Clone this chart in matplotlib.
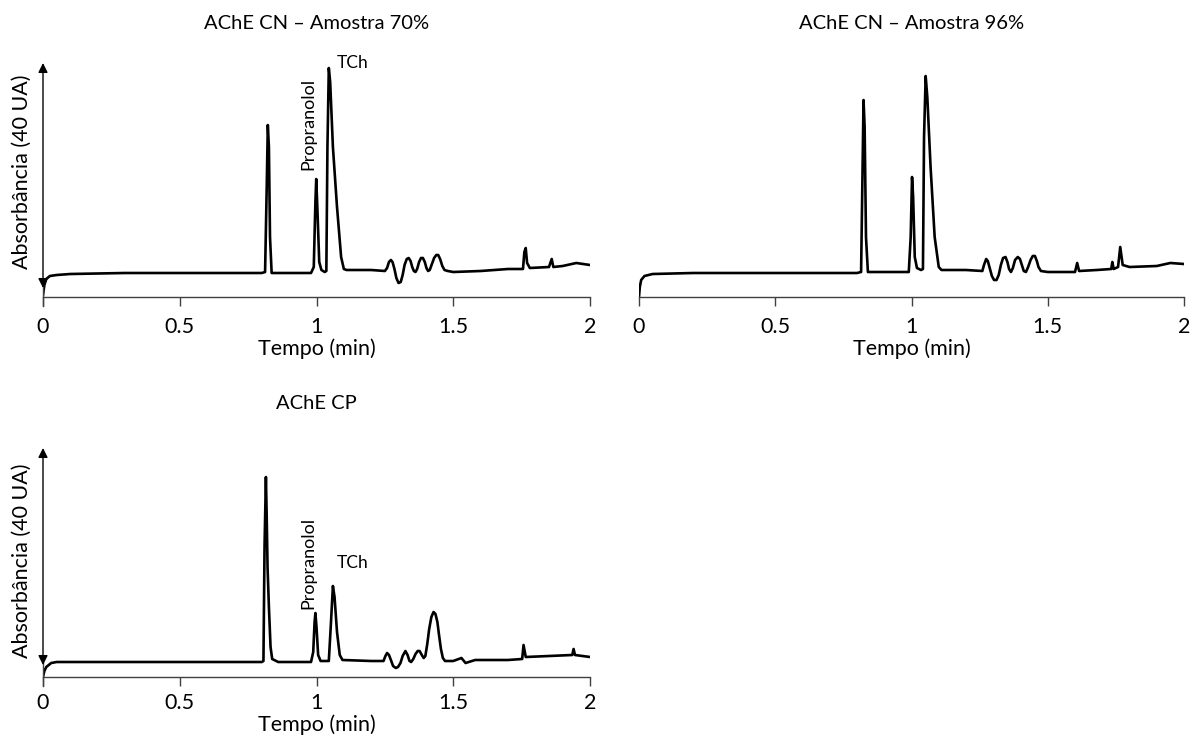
import matplotlib.pyplot as plt

plt.rcParams['font.family'] = ['Lato', 'DejaVu Sans']

# chromatogram traces (time in min, absorbance in arbitrary units)
t_70 = [0.000, 0.005, 0.012, 0.025, 0.05, 0.10, 0.30, 0.55, 0.80, 0.812, 0.818, 0.822, 0.826, 0.830,
        0.836, 0.98, 0.990, 0.996, 0.999, 1.003, 1.010, 1.018, 1.030, 1.036, 1.040, 1.045, 1.050, 1.060,
        1.075, 1.090, 1.100, 1.110, 1.20, 1.25, 1.258, 1.265, 1.272, 1.278, 1.285, 1.292, 1.300, 1.308,
        1.315, 1.322, 1.330, 1.337, 1.344, 1.350, 1.356, 1.362, 1.368, 1.375, 1.382, 1.389, 1.396, 1.402,
        1.408, 1.414, 1.422, 1.430, 1.438, 1.445, 1.452, 1.460, 1.468, 1.48, 1.50, 1.60, 1.70, 1.755,
        1.760, 1.765, 1.770, 1.78, 1.85, 1.860, 1.866, 1.90, 1.95, 2.00]
a_70 = [2, 12, 18, 21, 22, 23, 24, 24, 24, 25, 110, 172, 150, 60,
        24, 24, 30, 95, 118, 90, 35, 27, 25, 26, 150, 229, 215, 150,
        90, 40, 28, 27, 27, 26, 29, 35, 37, 35, 28, 19, 14, 15,
        22, 32, 38, 39, 36, 30, 26, 25, 28, 35, 39, 39, 35, 29,
        26, 27, 33, 39, 42, 42, 38, 31, 27, 26, 25, 26, 28, 28,
        45, 49, 34, 29, 30, 38, 30, 31, 34, 32]

t_96 = [0.000, 0.003, 0.008, 0.02, 0.05, 0.20, 0.50, 0.80, 0.815, 0.820, 0.824, 0.828, 0.833, 0.840,
        0.99, 0.997, 1.002, 1.006, 1.012, 1.020, 1.035, 1.042, 1.046, 1.052, 1.058, 1.070, 1.085, 1.100,
        1.110, 1.20, 1.26, 1.266, 1.274, 1.280, 1.287, 1.295, 1.303, 1.312, 1.320, 1.328, 1.336, 1.345,
        1.352, 1.358, 1.365, 1.372, 1.380, 1.390, 1.398, 1.405, 1.412, 1.420, 1.428, 1.437, 1.445, 1.453,
        1.460, 1.466, 1.475, 1.50, 1.60, 1.608, 1.615, 1.68, 1.733, 1.737, 1.742, 1.758, 1.766, 1.775,
        1.80, 1.90, 1.95, 2.00]
a_96 = [0, 10, 17, 21, 23, 24, 24, 24, 25, 120, 197, 170, 60, 25,
        25, 60, 120, 100, 40, 29, 27, 28, 160, 221, 200, 130, 60, 30,
        27, 27, 26, 32, 38, 36, 29, 21, 17, 17, 22, 32, 39, 40,
        35, 28, 25, 29, 37, 40, 38, 32, 26, 25, 30, 37, 41, 41,
        36, 30, 26, 25, 25, 34, 26, 27, 28, 35, 28, 30, 50, 32,
        30, 31, 34, 33]

t_cp = [0.000, 0.005, 0.012, 0.03, 0.05, 0.30, 0.80, 0.806, 0.810, 0.815, 0.818, 0.821, 0.826, 0.832,
        0.838, 0.86, 0.98, 0.988, 0.993, 0.996, 1.000, 1.006, 1.015, 1.045, 1.052, 1.060, 1.066, 1.075,
        1.085, 1.095, 1.20, 1.245, 1.252, 1.258, 1.265, 1.272, 1.280, 1.290, 1.298, 1.307, 1.315, 1.325,
        1.333, 1.340, 1.346, 1.354, 1.362, 1.370, 1.377, 1.385, 1.392, 1.398, 1.405, 1.412, 1.420, 1.428,
        1.435, 1.442, 1.448, 1.455, 1.462, 1.47, 1.50, 1.53, 1.545, 1.58, 1.70, 1.752, 1.757, 1.765,
        1.85, 1.935, 1.940, 1.945, 2.00]
a_cp = [0, 6, 10, 14, 15, 15, 15, 16, 130, 200, 160, 110, 70, 30,
        18, 15, 15, 25, 55, 64, 50, 22, 16, 16, 50, 91, 80, 45,
        22, 17, 16, 16, 21, 24, 22, 17, 11, 9, 10, 14, 21, 26,
        22, 16, 15, 18, 23, 26, 26, 22, 19, 21, 33, 48, 60, 65,
        63, 55, 42, 28, 19, 16, 16, 19, 14, 17, 17, 18, 32, 20,
        21, 22, 28, 22, 20]

titles = ['AChE CN – Amostra 70%', 'AChE CN – Amostra 96%', 'AChE CP']
xticks = [0, 0.5, 1, 1.5, 2]
xtick_labels = ['0', '0.5', '1', '1.5', '2']

fig = plt.figure(figsize=(11.99, 7.40), dpi=100)
ax1 = fig.add_axes([43 / 1199, 1 - 297 / 740, 547 / 1199, 237 / 740])
ax2 = fig.add_axes([639 / 1199, 1 - 297 / 740, 545 / 1199, 237 / 740])
ax3 = fig.add_axes([43 / 1199, 1 - 677 / 740, 547 / 1199, 237 / 740])

fs = 15.5
for ax, t, a, title in [(ax1, t_70, a_70, titles[0]), (ax2, t_96, a_96, titles[1]),
                        (ax3, t_cp, a_cp, titles[2])]:
    ax.plot(t, a, color='black', lw=1.9, solid_joinstyle='round')
    ax.set_xlim(0, 2)
    ax.set_ylim(0, 237)
    for s in ['top', 'right', 'left']:
        ax.spines[s].set_visible(False)
    ax.spines['bottom'].set_color('#404040')
    ax.spines['bottom'].set_linewidth(1.0)
    ax.set_xticks(xticks)
    ax.set_xticklabels(xtick_labels)
    ax.set_yticks([])
    ax.tick_params(axis='x', direction='out', length=6.5, width=1.0, color='#404040',
                   labelsize=fs, pad=8)
    ax.set_title(title, fontsize=14.5, pad=22)

ax1.set_xlabel('Tempo (min)', fontsize=fs, labelpad=1)
ax2.set_xlabel('Tempo (min)', fontsize=fs, labelpad=1)
ax3.set_xlabel('Tempo (min)', fontsize=fs, labelpad=1)
ax3.tick_params(axis='x', pad=5)

# double-headed y arrows with the label
for ax, top, bot, ly in [(ax1, 234, 9, 0.53), (ax3, 229, 12, 0.49)]:
    ax.annotate('', xy=(0, top), xytext=(0, bot),
                arrowprops=dict(arrowstyle='<|-|>', color='black', lw=1.0,
                                mutation_scale=14, shrinkA=0, shrinkB=0),
                annotation_clip=False)
    ax.plot([0, 0], [-9, bot + 4], color='#404040', lw=1.0, clip_on=False)
    ax.text(-0.038, ly, 'Absorbância (40 UA)', transform=ax.transAxes, rotation=90,
            ha='center', va='center', fontsize=fs)

# peak labels
ax1.text(0.969, 173, 'Propranolol', rotation=90, ha='center', va='center', fontsize=13)
ax1.text(1.133, 234, 'TCh', ha='center', va='center', fontsize=12.5)
ax3.text(0.969, 114, 'Propranolol', rotation=90, ha='center', va='center', fontsize=13)
ax3.text(1.133, 114, 'TCh', ha='center', va='center', fontsize=12.5)

fig.savefig('out.png', dpi=100)
